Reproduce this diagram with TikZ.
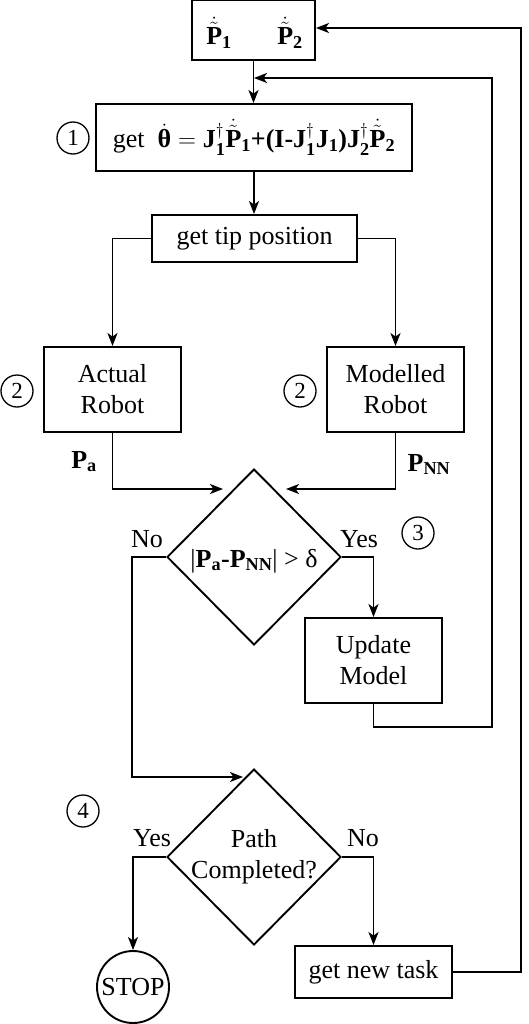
\documentclass[tikz,border=0pt]{standalone}
\usepackage{amsmath}
\usepackage{fontspec}
\setmainfont{Liberation Serif}
\usetikzlibrary{arrows.meta,shapes.geometric}
\newcommand\Pdt[1]{\dot{\tilde{\mathbf{P}}}_{\mathbf{#1}}}
\newcommand\Jd[1]{\mathbf{J}^{\dagger}_{\mathbf{#1}}}
\begin{document}
\begin{tikzpicture}[x=1pt,y=-1pt,line width=1.9pt,
  font=\fontsize{26}{31}\selectfont,
  box/.style={draw,rectangle,inner sep=0pt,align=center},
  dia/.style={draw,diamond,inner sep=0pt,minimum width=174pt,minimum height=176pt},
  txt/.style={inner sep=0pt,align=center},
  lbl/.style={inner sep=0pt,anchor=base},
  num/.style={draw,circle,inner sep=0pt,minimum size=32pt,line width=1.3pt,font=\fontsize{23}{27}\selectfont},
  arr/.style={-{Stealth[length=13pt,width=10pt,inset=3.5pt]}}]
\useasboundingbox (0,0) rectangle (528,1024);
% nodes
\node[box,minimum width=123pt,minimum height=60pt] (top) at (253.5,30) {};
\node[lbl] (p1) at (219,45) {$\Pdt1$};
\node[lbl] (p2) at (290,45) {$\Pdt2$};
\node[box,minimum width=316pt,minimum height=67pt] (f1) at (254,137.5)
  {get\ \ $\dot{\text{\bfseries θ}} = \Jd1\Pdt1\text{\bfseries +(I-}\Jd1\mathbf{J}_{\mathbf 1}\text{\bfseries )}\Jd2\Pdt2$};
\node[box,minimum width=205pt,minimum height=47pt] (tip) at (254.5,238.5) {get tip position};
\node[box,minimum width=137pt,minimum height=85pt] (act) at (112.5,389.5) {Actual\\Robot};
\node[box,minimum width=137pt,minimum height=85pt] (mod) at (395.5,389.5) {Modelled\\Robot};
\node[dia] (d1) at (254,557) {};
\node[lbl] (d1t) at (254,567) {|$\mathbf{P}_{\mathbf a}$\textbf{-}$\mathbf{P}_{\mathbf{NN}}$| > δ};
\node[box,minimum width=137pt,minimum height=85pt] (upd) at (373.5,660.5) {Update\\Model};
\node[dia] (d2) at (254,857) {};
\node[txt] (d2t) at (254,857) {Path\\Completed?};
\node[draw,circle,inner sep=0pt,minimum size=72pt] (stop) at (133,987) {STOP};
\node[box,minimum width=157pt,minimum height=52pt] (newt) at (373.5,972) {get new task};
% step numbers
\node[num] (c1) at (73,138) {1};
\node[num] (c2a) at (17,391) {2};
\node[num] (c2b) at (300,391) {2};
\node[num] (c3) at (418,533) {3};
\node[num] (c4) at (83,811) {4};
% labels
\node[lbl] (la) at (84,468) {$\mathbf{P}_{\mathbf a}$};
\node[lbl] (lnn) at (429,471) {$\mathbf{P}_{\mathbf{NN}}$};
\node[lbl] (no1) at (147,547) {No};
\node[lbl] (yes1) at (359,547) {Yes};
\node[lbl] (yes2) at (152,846) {Yes};
\node[lbl] (no2) at (363,846) {No};
% coordinates
\coordinate (j1) at (254,78);
\coordinate (a1) at (223,489);
\coordinate (a2) at (286,489);
\coordinate (nb) at (132,777);
\coordinate (b1) at (243,777);
\coordinate (r1) at (492,727);
\coordinate (r2) at (521,28);
% connectors
\draw[arr] (top.south) -- (top.south |- f1.north);
\draw[arr] (f1.south) -- (f1.south |- tip.north);
\draw[arr] (tip.west) -| (act.north);
\draw[arr] (tip.east) -| (mod.north);
\draw[arr] (act.south) |- (a1);
\draw[arr] (mod.south) |- (a2);
\draw[arr] (d1.east) -| (upd.north);
\draw[arr] (d1.west) -| (nb) -- (b1);
\draw[arr] (upd.south) |- (r1) |- (j1);
\draw[arr] (d2.west) -| (stop.north);
\draw[arr] (d2.east) -| (newt.north);
\draw[arr] (newt.east) -| (r2) -- (top.east |- r2);
\end{tikzpicture}
\end{document}
